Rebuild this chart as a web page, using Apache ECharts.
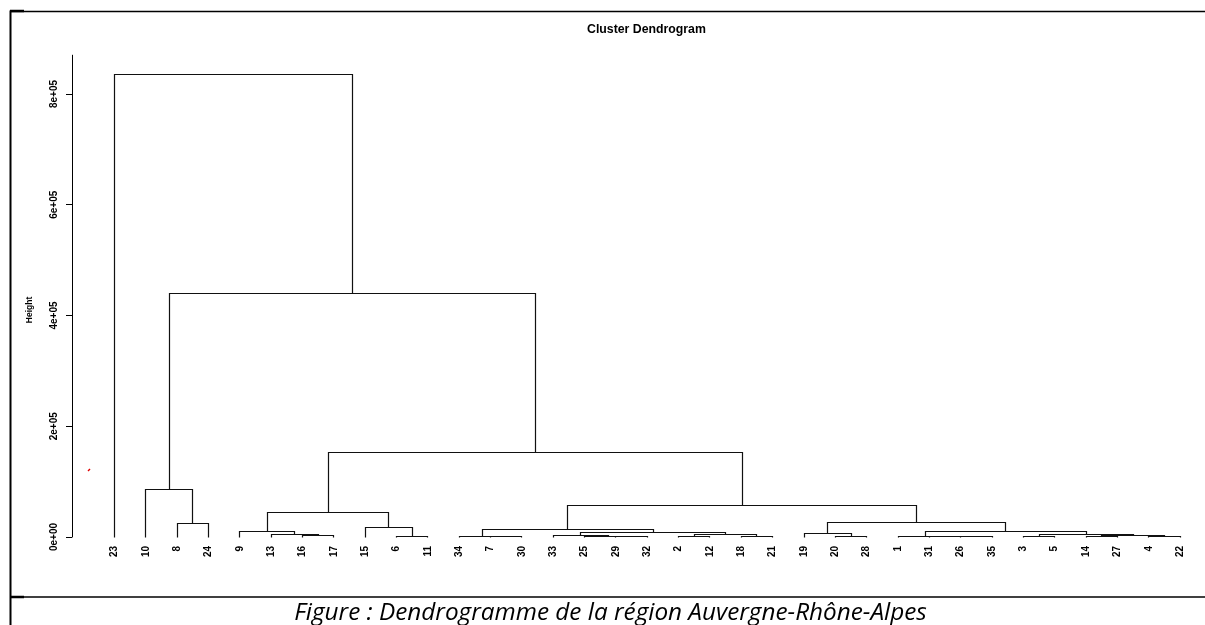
<!DOCTYPE html>
<html>
<head>
<meta charset="utf-8">
<title>Cluster Dendrogram</title>
<script src="https://cdn.jsdelivr.net/npm/echarts@6/dist/echarts.min.js"></script>
<style>
  html, body { margin: 0; padding: 0; background: #ffffff; }
  #chart { width: 1205px; height: 625px; }
</style>
</head>
<body>
<div id="chart"></div>
<script>
// Observation numbers in the order the leaves are laid out along the x axis
const leafOrder = [23, 10, 8, 24, 9, 13, 16, 17, 15, 6, 11, 34, 7, 30, 33, 25, 29, 32,
                   2, 12, 18, 21, 19, 20, 28, 1, 31, 26, 35, 3, 5, 14, 27, 4, 22];

// Agglomeration steps (hclust convention): a negative entry is an observation,
// a positive entry refers to an earlier step (1-based). Heights in the same units as the y axis.
const mergeLeft  = [-20, -26, -3, -7, -29, -31, -14, -4, -6, -2, -1, -34, -18, -25, -33, -16, 7,
                    10, 3, -13, -19, 15, 11, -9, 12, -15, -8, 21, 24, 25, -10, 29, 31, -23];
const mergeRight = [-28, -35, -5, -30, -32, 2, -27, -22, -11, -12, 6, 4, -21, 5, 14, -17, 8,
                    13, 17, 16, 1, 18, 19, 20, 22, 9, -24, 23, 26, 28, 27, 30, 32, 33];
const mergeHeight = [500, 500, 500, 800, 1000, 800, 800, 800, 1000, 1200, 1200, 1500, 1500, 1800, 2200, 3000, 3000,
                     4000, 4800, 5200, 5800, 7800, 10000, 10500, 12800, 17000, 23500, 25800, 44600, 57300, 85000,
                     152000, 439000, 836000];

// Height axis ticks
const yTickValues = [0, 200000, 400000, 600000, 800000];
const yTickLabels = ['0e+00', '2e+05', '4e+05', '6e+05', '8e+05'];

// Build the link segments from the merge table
const leafPos = {};
leafOrder.forEach((id, i) => { leafPos[id] = i + 1; });
const nodeX = [];
const nodeH = [];
const links = [];
for (let i = 0; i < mergeHeight.length; i++) {
  const side = c => (c < 0 ? [leafPos[-c], 0] : [nodeX[c - 1], nodeH[c - 1]]);
  const [xl, hl] = side(mergeLeft[i]);
  const [xr, hr] = side(mergeRight[i]);
  nodeX.push((xl + xr) / 2);
  nodeH.push(mergeHeight[i]);
  links.push([xl, hl, xr, hr, mergeHeight[i]]);
}
const leafData = leafOrder.map((id, i) => [i + 1, 0]);

const snap = v => Math.round(v - 0.5) + 0.5;

const chart = echarts.init(document.getElementById('chart'), null, { renderer: 'canvas' });
chart.setOption({
  animation: false,
  backgroundColor: '#ffffff',
  title: {
    text: 'Cluster Dendrogram',
    left: 587,
    top: 24,
    padding: 0,
    textStyle: { fontFamily: '"Liberation Sans", Arial, sans-serif', fontSize: 12.3, fontWeight: 'bold', color: '#000' }
  },
  grid: { left: 114.5, right: 24.9, top: 55.2, bottom: 88, containLabel: false },
  xAxis: { type: 'value', min: 1, max: 35, show: false },
  yAxis: {
    type: 'value',
    min: 0,
    max: 870000,
    interval: 200000,
    offset: 42.5,
    axisLine: { show: true, lineStyle: { color: '#000', width: 1 } },
    axisTick: { show: true, length: 6, customValues: yTickValues, lineStyle: { color: '#000', width: 1 } },
    axisLabel: {
      customValues: yTickValues,
      rotate: 90,
      margin: 13,
      color: '#000',
      fontFamily: '"Liberation Sans", Arial, sans-serif',
      fontSize: 10,
      fontWeight: 'bold',
      formatter: v => yTickLabels[yTickValues.indexOf(v)]
    },
    splitLine: { show: false }
  },
  series: [
    {
      type: 'custom',
      name: 'links',
      data: links,
      clip: false,
      renderItem: (params, api) => {
        const p1 = api.coord([api.value(0), api.value(1)]);
        const p2 = api.coord([api.value(0), api.value(4)]);
        const p3 = api.coord([api.value(2), api.value(4)]);
        const p4 = api.coord([api.value(2), api.value(3)]);
        return {
          type: 'polyline',
          shape: { points: [p1, p2, p3, p4].map(p => [snap(p[0]), snap(p[1])]) },
          style: { stroke: '#111', lineWidth: 1.2, fill: null }
        };
      }
    },
    {
      type: 'custom',
      name: 'leaves',
      data: leafData,
      clip: false,
      renderItem: (params, api) => {
        const p = api.coord([api.value(0), api.value(1)]);
        return {
          type: 'text',
          x: p[0],
          y: p[1] + 9,
          rotation: Math.PI / 2,
          style: {
            text: String(leafOrder[params.dataIndex]),
            align: 'right',
            verticalAlign: 'middle',
            fontFamily: '"Liberation Sans", Arial, sans-serif',
            fontSize: 10,
            fontWeight: 'bold',
            fill: '#000'
          }
        };
      }
    }
  ],
  graphic: [
    // page frame
    { type: 'line', shape: { x1: 10, y1: 11.5, x2: 1205, y2: 11.5 }, style: { stroke: '#000', lineWidth: 1.5 } },
    { type: 'line', shape: { x1: 10, y1: 11, x2: 24, y2: 11 }, style: { stroke: '#000', lineWidth: 2.5 } },
    { type: 'line', shape: { x1: 10.5, y1: 10.5, x2: 10.5, y2: 625 }, style: { stroke: '#000', lineWidth: 2 } },
    { type: 'line', shape: { x1: 10, y1: 597, x2: 1205, y2: 597 }, style: { stroke: '#000', lineWidth: 1.5 } },
    { type: 'line', shape: { x1: 10, y1: 597, x2: 24, y2: 597 }, style: { stroke: '#000', lineWidth: 2.5 } },
    // y axis title
    {
      type: 'text', x: 30, y: 310, rotation: Math.PI / 2,
      style: { text: 'Height', align: 'center', verticalAlign: 'middle',
               fontFamily: '"Liberation Sans", Arial, sans-serif', fontSize: 8.5, fontWeight: 'bold', fill: '#000' }
    },
    // stray red mark
    { type: 'line', shape: { x1: 88, y1: 471, x2: 90, y2: 469 }, style: { stroke: '#e00000', lineWidth: 1.5 } },
    // caption
    {
      type: 'text', x: 610.5, y: 613.5,
      style: { text: 'Figure : Dendrogramme de la région Auvergne-Rhône-Alpes', align: 'center', verticalAlign: 'middle',
               fontFamily: '"Open Sans", sans-serif', fontSize: 24.3, fontStyle: 'italic', fill: '#000' }
    }
  ]
});
</script>
</body>
</html>
